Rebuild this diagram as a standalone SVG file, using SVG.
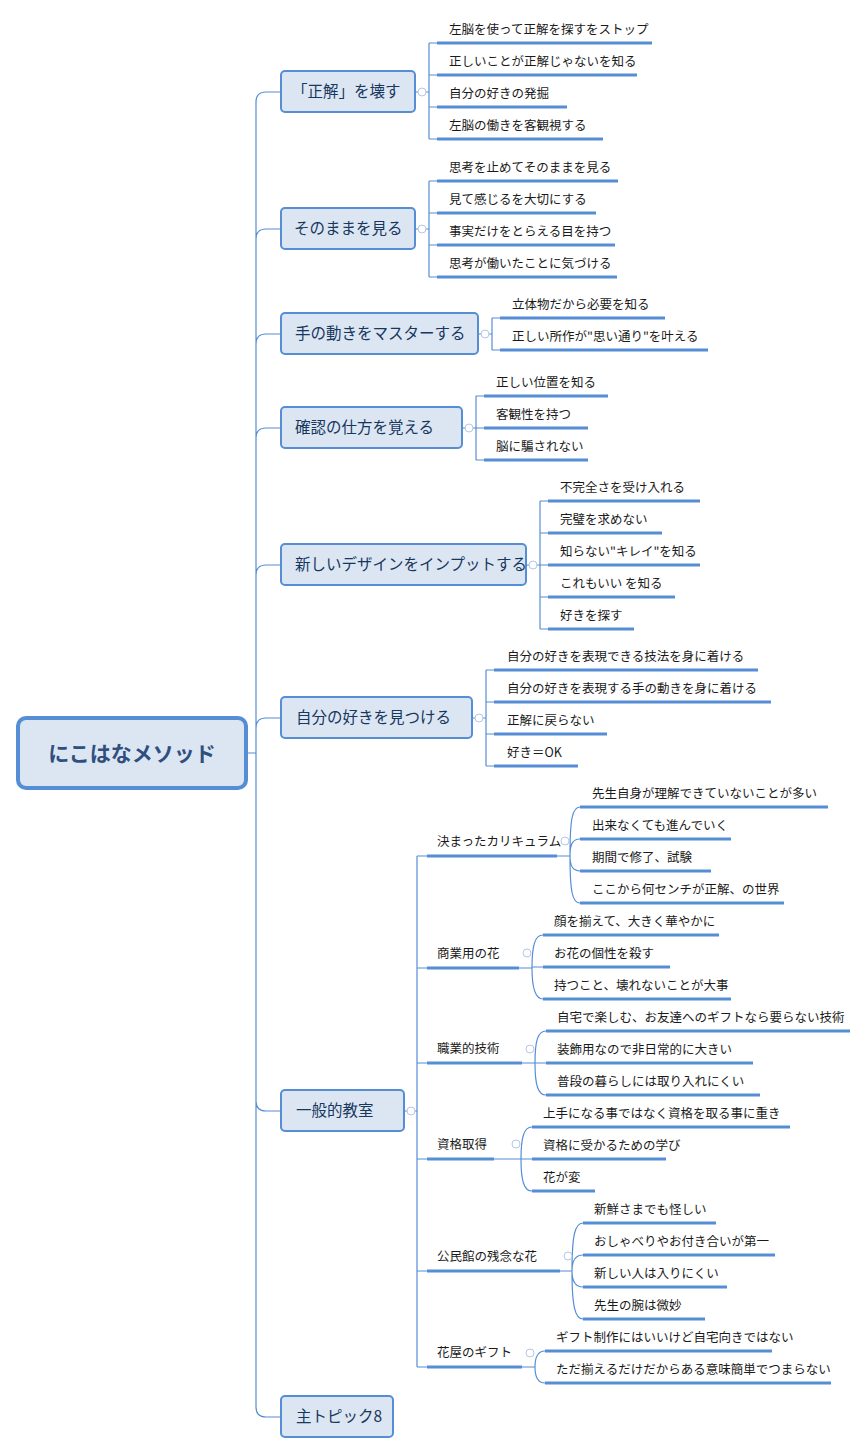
<svg xmlns="http://www.w3.org/2000/svg" width="868" height="1455" viewBox="0 0 868 1455">
<style>
.t{font-family:"Noto Sans CJK JP","Liberation Sans",sans-serif;font-size:12.5px;fill:#1a1a1a}
.m{font-family:"Noto Sans CJK JP","Liberation Sans",sans-serif;font-size:15.5px;fill:#17375e}
.box{fill:#dce6f2;stroke:#558ed5;stroke-width:2}
.u{stroke:#558ed5;stroke-width:3}
.c{fill:none;stroke:#558ed5;stroke-width:1.2}
.o{fill:#fff;stroke:#b4c7e7;stroke-width:1}
</style>
<rect width="868" height="1455" fill="#fff"/>
<g id="connectors" class="c">
<path d="M246,753H256M256,1407V102Q256,92 266,92H281M256,239Q256,229 266,229H281M256,344Q256,334 266,334H281M256,438Q256,428 266,428H281M256,575Q256,565 266,565H281M256,728Q256,718 266,718H281M256,1101Q256,1111 266,1111H281M256,1407Q256,1417 266,1417H281"/>
<path d="M415,92H429M429,43V139M429,43H437M429,75H437M429,107H437M429,139H437"/>
<path d="M415,229H429M429,181V277M429,181H437M429,213H437M429,245H437M429,277H437"/>
<path d="M478,334H492M492,318V350M492,318H500M492,350H500"/>
<path d="M462,428H476M476,396V460M476,396H484M476,428H484M476,460H484"/>
<path d="M526,565H540M540,501V629M540,501H548M540,533H548M540,565H548M540,597H548M540,629H548"/>
<path d="M472,718H486M486,670V766M486,670H494M486,702H494M486,734H494M486,766H494"/>
<path d="M404,1111H417M417,856V1367M417,856H427M417,968H427M417,1063H427M417,1159H427M417,1271H427M417,1367H427"/>
<path d="M557,856H570M570,856C570,820 572,807 580,807M570,856C570,845 572,839 580,839M570,856C570,865 572,871 580,871M570,856C570,890 572,903 580,903"/>
<path d="M519,968H532M532,968C532,945 535,935 543,935M532,968C532,985 535,999 543,999M532,967H543"/>
<path d="M522,1063H535M535,1063C535,1040 538,1031 546,1031M535,1063H546M535,1063C535,1085 538,1095 546,1095"/>
<path d="M494,1159H521M521,1159C521,1137 524,1127 532,1127M521,1159H532M521,1159C521,1181 524,1191 532,1191"/>
<path d="M560,1271H572M572,1271C572,1235 575,1223 583,1223M572,1271C572,1261 575,1255 583,1255M572,1271C572,1281 575,1287 583,1287M572,1271C572,1306 575,1319 583,1319"/>
<path d="M522,1367H535M535,1367C535,1357 538,1351 545,1351M535,1367C535,1377 538,1383 545,1383"/>
</g>
<g id="root"><rect x="18" y="718" width="228" height="70" rx="8" fill="#dce6f2" stroke="#558ed5" stroke-width="4"/><text x="132" y="761" text-anchor="middle" font-family="Noto Sans CJK JP,sans-serif" font-size="21" font-weight="bold" fill="#2f4f7f">にこはなメソッド</text></g>
<g id="n1"><rect class="box" x="281" y="71" width="134" height="41" rx="4"/><text class="m" x="292" y="97">「正解」を壊す</text><circle class="o" cx="422" cy="92" r="4"/></g>
<g id="n2"><rect class="box" x="281" y="208" width="134" height="41" rx="4"/><text class="m" x="294" y="234">そのままを見る</text><circle class="o" cx="422" cy="229" r="4"/></g>
<g id="n3"><rect class="box" x="281" y="313" width="197" height="41" rx="4"/><text class="m" x="295" y="339">手の動きをマスターする</text><circle class="o" cx="485" cy="334" r="4"/></g>
<g id="n4"><rect class="box" x="281" y="407" width="181" height="41" rx="4"/><text class="m" x="295" y="433">確認の仕方を覚える</text><circle class="o" cx="469" cy="428" r="4"/></g>
<g id="n5"><rect class="box" x="281" y="544" width="245" height="41" rx="4"/><text class="m" x="295" y="570">新しいデザインをインプットする</text><circle class="o" cx="533" cy="565" r="4"/></g>
<g id="n6"><rect class="box" x="281" y="697" width="191" height="41" rx="4"/><text class="m" x="296" y="723">自分の好きを見つける</text><circle class="o" cx="479" cy="718" r="4"/></g>
<g id="n7"><rect class="box" x="281" y="1090" width="123" height="41" rx="4"/><text class="m" x="296" y="1116">一般的教室</text><circle class="o" cx="411" cy="1111" r="4"/></g>
<g id="n8"><rect class="box" x="281" y="1396" width="112" height="41" rx="4"/><text class="m" x="296" y="1422">主トピック8</text></g>
<g id="leaves">
<g class="u">
<path d="M437,43H652M437,75H637M437,107H567M437,139H603M437,181H618M437,213H596M437,245H615M437,277H617M500,318H665M500,350H708M484,396H608M484,428H588M484,460H588M548,501H700M548,533H662M548,565H700M548,597H675M548,629H634M494,670H758M494,702H771M494,734H607M494,766H578"/>
<path d="M427,856H557M427,968H519M427,1063H522M427,1159H494M427,1271H560M427,1367H522"/>
<path d="M580,807H828M580,839H731M580,871H711M580,903H784M543,935H719M543,967H670M543,999H731M546,1031H850M546,1063H753M546,1095H760M532,1127H790M532,1159H666M532,1191H595M583,1223H716M583,1255H775M583,1287H727M583,1319H705M545,1351H772M545,1383H831"/>
</g>
<circle class="o" cx="565" cy="841" r="4"/><circle class="o" cx="527" cy="953" r="4"/><circle class="o" cx="530" cy="1049" r="4"/><circle class="o" cx="516" cy="1144" r="4"/><circle class="o" cx="568" cy="1256" r="4"/><circle class="o" cx="530" cy="1353" r="4"/>
<text class="t" x="449" y="34">左脳を使って正解を探すをストップ</text>
<text class="t" x="449" y="66">正しいことが正解じゃないを知る</text>
<text class="t" x="449" y="98">自分の好きの発掘</text>
<text class="t" x="449" y="130">左脳の働きを客観視する</text>
<text class="t" x="449" y="172">思考を止めてそのままを見る</text>
<text class="t" x="449" y="204">見て感じるを大切にする</text>
<text class="t" x="449" y="236">事実だけをとらえる目を持つ</text>
<text class="t" x="449" y="268">思考が働いたことに気づける</text>
<text class="t" x="512" y="309">立体物だから必要を知る</text>
<text class="t" x="512" y="341">正しい所作が"思い通り"を叶える</text>
<text class="t" x="496" y="387">正しい位置を知る</text>
<text class="t" x="496" y="419">客観性を持つ</text>
<text class="t" x="496" y="451">脳に騙されない</text>
<text class="t" x="560" y="492">不完全さを受け入れる</text>
<text class="t" x="560" y="524">完璧を求めない</text>
<text class="t" x="560" y="556">知らない"キレイ"を知る</text>
<text class="t" x="560" y="588">これもいい を知る</text>
<text class="t" x="560" y="620">好きを探す</text>
<text class="t" x="507" y="661">自分の好きを表現できる技法を身に着ける</text>
<text class="t" x="507" y="693">自分の好きを表現する手の動きを身に着ける</text>
<text class="t" x="507" y="725">正解に戻らない</text>
<text class="t" x="507" y="757">好き＝OK</text>
<text class="t" x="437" y="846">決まったカリキュラム</text>
<text class="t" x="437" y="958">商業用の花</text>
<text class="t" x="437" y="1053">職業的技術</text>
<text class="t" x="437" y="1149">資格取得</text>
<text class="t" x="437" y="1261">公民館の残念な花</text>
<text class="t" x="437" y="1357">花屋のギフト</text>
<text class="t" x="592" y="798">先生自身が理解できていないことが多い</text>
<text class="t" x="592" y="830">出来なくても進んでいく</text>
<text class="t" x="592" y="862">期間で修了、試験</text>
<text class="t" x="592" y="894">ここから何センチが正解、の世界</text>
<text class="t" x="554" y="926">顔を揃えて、大きく華やかに</text>
<text class="t" x="554" y="958">お花の個性を殺す</text>
<text class="t" x="554" y="990">持つこと、壊れないことが大事</text>
<text class="t" x="557" y="1022">自宅で楽しむ、お友達へのギフトなら要らない技術</text>
<text class="t" x="557" y="1054">装飾用なので非日常的に大きい</text>
<text class="t" x="557" y="1086">普段の暮らしには取り入れにくい</text>
<text class="t" x="543" y="1118">上手になる事ではなく資格を取る事に重き</text>
<text class="t" x="543" y="1150">資格に受かるための学び</text>
<text class="t" x="543" y="1182">花が変</text>
<text class="t" x="594" y="1214">新鮮さまでも怪しい</text>
<text class="t" x="594" y="1246">おしゃべりやお付き合いが第一</text>
<text class="t" x="594" y="1278">新しい人は入りにくい</text>
<text class="t" x="594" y="1310">先生の腕は微妙</text>
<text class="t" x="556" y="1342">ギフト制作にはいいけど自宅向きではない</text>
<text class="t" x="556" y="1374">ただ揃えるだけだからある意味簡単でつまらない</text>
</g>
</svg>
